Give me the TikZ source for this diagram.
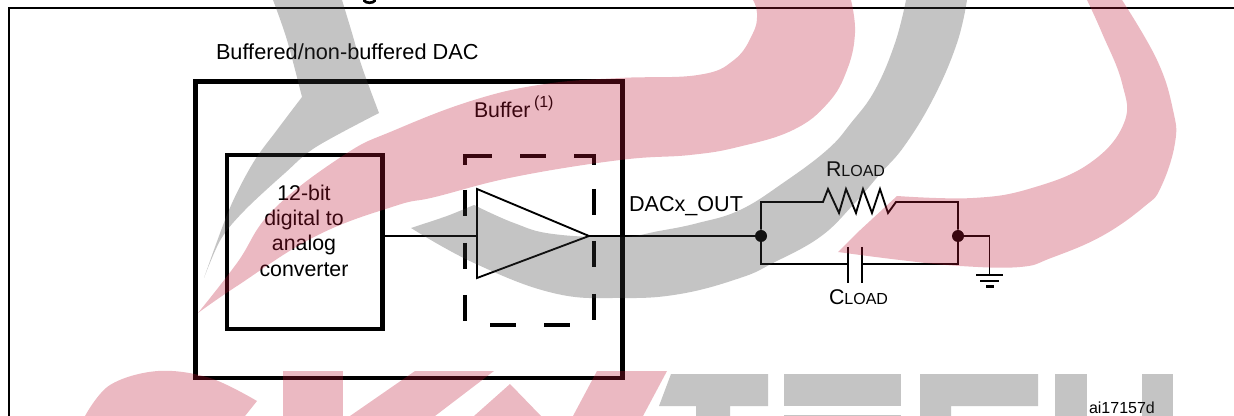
\documentclass[tikz,border=0pt]{standalone}
\usepackage{fontspec}
\setmainfont{Liberation Sans}
\newcommand{\fs}[1]{\fontsize{#1}{#1}\selectfont}
\tikzset{
  lbl/.style={inner sep=0pt,outer sep=0pt,anchor=base west,text=black},
  frameline/.style={draw=black,line width=1.6pt},
  heavy/.style={draw=black,line width=3.4pt},
  medium/.style={draw=black,line width=3.2pt},
  dashpart/.style={draw=black,line width=3pt},
  wire/.style={draw=black,line width=1.4pt,line join=miter},
  plate/.style={draw=black,line width=2pt},
  dot/.style={circle,fill=black,draw=none,minimum size=9pt,inner sep=0pt},
  wmpink/.style={fill={rgb,255:red,190;green,22;blue,52},fill opacity=.3,draw=none},
  wmgrey/.style={fill={rgb,255:red,58;green,58;blue,58},fill opacity=.3,draw=none},
}
\begin{document}
\begin{tikzpicture}[x=0.75pt,y=-0.75pt]
\useasboundingbox (0,0) rectangle (1234,416);
\clip (0,0) rectangle (1234,416);
% coordinates
\coordinate (ftl) at (8.7,8); \coordinate (ftr) at (1234,8); \coordinate (fbl) at (8.7,416);
\coordinate (convout) at (382.5,236);
\coordinate (ampin) at (477,236);
\coordinate (amptop) at (477,189);
\coordinate (ampbot) at (477,278);
\coordinate (amptip) at (589,236);
\node[dot] (jl) at (761,236) {};
\node[dot] (jr) at (958,236) {};
\coordinate (rs) at (823,202);
\coordinate (re) at (896,202);
\coordinate (tl) at (761,202);
\coordinate (tr) at (958,202);
\coordinate (bl) at (761,264);
\coordinate (br) at (958,264);
\coordinate (c1) at (848,264);
\coordinate (c2) at (862,264);
\coordinate (gnd) at (989.5,275);
% frame
\draw[frameline] (fbl) -- (ftl) -- (ftr);
% boxes
\draw[heavy] (195.5,81.5) rectangle (622.5,378);
\draw[medium] (226.7,155) rectangle (382.5,329);
% dashed box
\draw[dashpart] (465,165) -- (465,156) -- (492,156);
\draw[dashpart] (520,156) -- (546,156);
\draw[dashpart] (574,156) -- (593.5,156) -- (593.5,165);
\draw[dashpart] (465,190) -- (465,216);
\draw[dashpart] (465,243) -- (465,269);
\draw[dashpart] (465,295) -- (465,321);
\draw[dashpart] (593.5,189) -- (593.5,215);
\draw[dashpart] (593.5,241) -- (593.5,267);
\draw[dashpart] (593.5,294) -- (593.5,320);
\draw[dashpart] (490,324.7) -- (516,324.7);
\draw[dashpart] (544,324.7) -- (570,324.7);
% amp
\draw[wire] (amptop) -- (amptip) -- (ampbot) -- cycle;
\draw[wire] (convout) -- (ampin);
\draw[wire] (amptip) -- (jl);
% load network
\draw[wire] (jl) -- (tl) -- (rs) -- (828,189) -- (839,213) -- (846,189) -- (856,213) -- (863,189) -- (872,213) -- (880,189) -- (888,213) -- (re) -- (tr) -- (jr);
\draw[wire] (jl) -- (bl) -- (c1);
\draw[wire] (jr) -- (br) -- (c2);
\draw[plate] (848,247) -- (c1) -- (848,283);
\draw[plate] (862,247) -- (c2) -- (862,283);
\draw[wire] (jr) -- (989.5,236) -- (gnd);
\draw[wire] (976,275) -- (1003,275);
\draw[wire] (980,281) -- (999,281);
\draw[draw=black,line width=1.6pt] (986,286.5) -- (994,286.5);
% title descender remnant
\draw[draw=black,line width=2pt,line cap=round] (364,0.5) .. controls (366,3.5) and (373,3.5) .. (375,0.5);
% labels
\node[lbl] (t1) at (216,60) {\fs{16.3pt}Buffered/non-buffered DAC};
\node[lbl] (t2) at (474,118) {\fs{16pt}Buffer};
\node[lbl] (t3) at (534,108) {\fs{12pt}(1)};
\node[lbl,anchor=base] (t4) at (304,201) {\fs{16pt}12-bit};
\node[lbl,anchor=base] (t5) at (304,226) {\fs{16pt}digital to};
\node[lbl,anchor=base] (t6) at (304,251) {\fs{16pt}analog};
\node[lbl,anchor=base] (t7) at (304,277) {\fs{16pt}converter};
\node[lbl] (t8) at (629,212) {\fs{16.2pt}DACx\_OUT};
\node[lbl] (t9) at (826,177) {\fs{16pt}R\fs{12pt}LOAD};
\node[lbl] (t10) at (829,305) {\fs{16pt}C\fs{12pt}LOAD};
\node[lbl] (t11) at (1089,413) {\fs{12pt}ai17157d};
% watermark
\path[wmgrey] plot[smooth,tension=.55] coordinates {(273,0) (287,40) (302,97)} -- plot[smooth,tension=.55] coordinates {(302,97) (277,130) (253,163) (229,210) (204,278)} -- plot[smooth,tension=.55] coordinates {(204,278) (221,239) (245,210) (285,173) (316,147) (379,113)} -- plot[smooth,tension=.55] coordinates {(379,113) (362,67) (352,33) (342,0)} -- cycle;
\path[wmpink] plot[smooth,tension=.7] coordinates {(198,313) (237,263) (273,210) (344,155) (395,130) (474,100) (545,84) (620,78) (698,75) (734,60) (753,33) (757,13) (753,0)} -- plot[smooth,tension=.7] coordinates {(851,0) (855,33) (847,70) (828,103) (793,130) (738,147) (690,155) (620,160) (514,177) (435,197) (395,206) (316,236) (237,286) (198,313)} -- cycle;
\path[wmgrey] plot[smooth,tension=.7] coordinates {(967,0) (957,43) (934,97) (905,145) (880,174) (853,205) (820,237) (773,263) (740,278) (680,294) (620,298) (553,293) (474,263) (411,228)} -- plot[smooth,tension=.4] coordinates {(411,228) (447,216) (474,205)} -- plot[smooth,tension=.7] coordinates {(474,205) (514,223) (553,234) (620,237) (659,231) (698,223) (740,210) (783,183) (827,150) (851,123) (875,90) (895,43) (906,0)} -- cycle;
\path[wmpink] plot[smooth,tension=.7] coordinates {(1122,0) (1157,60) (1173,110) (1175,143) (1161,187) (1145,206) (1102,236) (1051,258) (1020,267) (960,266) (900,260) (838,252)} -- (857,233) -- plot[smooth,tension=.7] coordinates {(897,196) (973,198) (1032,188) (1090,163) (1124,123) (1122,83) (1102,33) (1087,0)} -- cycle;
% lettering
\path[wmpink] plot[smooth,tension=.6] coordinates {(85,416) (110,385) (158,371) (210,378) (257,401)} -- (245,416) -- cycle;
\path[wmpink] (283,371) rectangle (343,416);
\path[wmpink] (415,371) -- (494,371) -- (435,416) -- (350,416) -- cycle;
\path[wmpink] (510,384) -- (541,416) -- (474,416) -- cycle;
\path[wmpink] (597,371) -- (667,371) -- (643,416) -- (573,416) -- cycle;
\path[wmgrey] (671,374) -- (768,374) -- (768,406) -- (730,406) -- (730,416) -- (696,416) -- (696,406) -- (659,406) -- cycle;
\path[wmgrey] (784,374) rectangle (901,406);
\path[wmgrey] (784,415) rectangle (901,416);
\path[wmgrey] (920,374) -- (1038,374) -- (1038,406) -- (951,406) -- (951,416) -- (920,416) -- cycle;
\path[wmgrey] (1055,374) rectangle (1087,416);
\path[wmgrey] (1142,374) rectangle (1173,416);
\end{tikzpicture}
\end{document}
